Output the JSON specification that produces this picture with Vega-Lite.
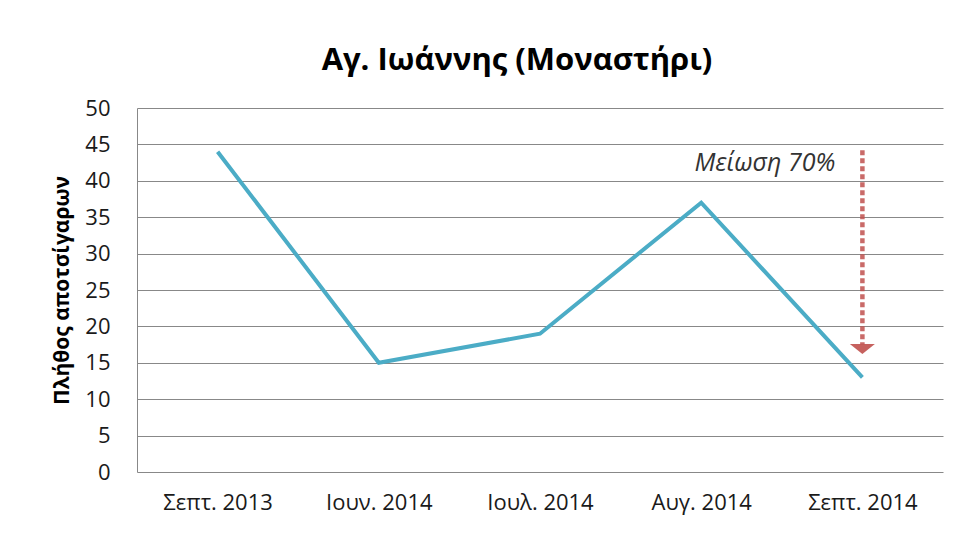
{
  "$schema": "https://vega.github.io/schema/vega-lite/v6.json",
  "autosize": {"type": "none"},
  "width": 806,
  "height": 364,
  "padding": {"left": 137, "top": 108, "right": 15, "bottom": 61},
  "background": "white",
  "config": {"view": {"stroke": null}, "font": "Open Sans"},
  "title": {
    "text": "Αγ. Ιωάννης (Μοναστήρι)",
    "fontSize": 31,
    "fontWeight": "bold",
    "font": "Open Sans",
    "color": "#000000",
    "anchor": "middle",
    "frame": "group",
    "baseline": "alphabetic",
    "offset": 28,
    "dy": 32,
    "dx": -23
  },
  "datasets": {
    "series": [
      {"month": "Σεπτ. 2013", "count": 44},
      {"month": "Ιουν. 2014", "count": 15},
      {"month": "Ιουλ. 2014", "count": 19},
      {"month": "Αυγ. 2014", "count": 37},
      {"month": "Σεπτ. 2014", "count": 13}
    ],
    "arrow": [
      {"month": "Σεπτ. 2014", "count": 44.2, "to": 17.5}
    ],
    "head": [
      {"month": "Σεπτ. 2014", "count": 16.9}
    ],
    "note": [
      {"month": "Σεπτ. 2014", "count": 41.4, "label": "Μείωση 70%"}
    ]
  },
  "encoding": {
    "x": {
      "field": "month",
      "type": "nominal",
      "sort": null,
      "scale": {"type": "point", "padding": 0.5, "domain": ["Σεπτ. 2013", "Ιουν. 2014", "Ιουλ. 2014", "Αυγ. 2014", "Σεπτ. 2014"]},
      "axis": {
        "title": null,
        "labelAngle": 0,
        "labelFontSize": 22,
        "labelColor": "#1a1a1a",
        "labelBaseline": "alphabetic",
        "labelPadding": 37,
        "ticks": false,
        "domain": false,
        "grid": false
      }
    },
    "y": {
      "field": "count",
      "type": "quantitative",
      "scale": {"domain": [0, 50], "nice": false},
      "axis": {
        "title": "Πλήθος αποτσίγαρων",
        "titleFontSize": 21,
        "titleFontWeight": "bold",
        "titleColor": "#000000",
        "titlePadding": 12,
        "values": [0, 5, 10, 15, 20, 25, 30, 35, 40, 45, 50],
        "labelOverlap": false,
        "labelFontSize": 22,
        "labelColor": "#1a1a1a",
        "labelPadding": 27,
        "ticks": false,
        "domain": true,
        "domainColor": "#888888",
        "grid": true,
        "gridColor": "#888888",
        "gridOpacity": 1
      }
    }
  },
  "layer": [
    {
      "data": {"name": "series"},
      "mark": {"type": "line", "color": "#4BACC6", "strokeWidth": 4}
    },
    {
      "data": {"name": "arrow"},
      "mark": {"type": "rule", "color": "#C0504D", "opacity": 0.85, "strokeWidth": 4.5, "strokeDash": [5, 3]},
      "encoding": {
        "y2": {"field": "to"}
      }
    },
    {
      "data": {"name": "head"},
      "mark": {"type": "point", "shape": "M-1,-0.4L1,-0.4L0,0.4Z", "filled": true, "color": "#C0504D", "opacity": 0.9, "size": 625, "strokeWidth": 0}
    },
    {
      "data": {"name": "note"},
      "mark": {"type": "text", "align": "right", "baseline": "alphabetic", "dx": -27, "fontSize": 25, "fontStyle": "italic", "color": "#333333", "font": "Open Sans"},
      "encoding": {
        "text": {"field": "label"}
      }
    }
  ]
}
